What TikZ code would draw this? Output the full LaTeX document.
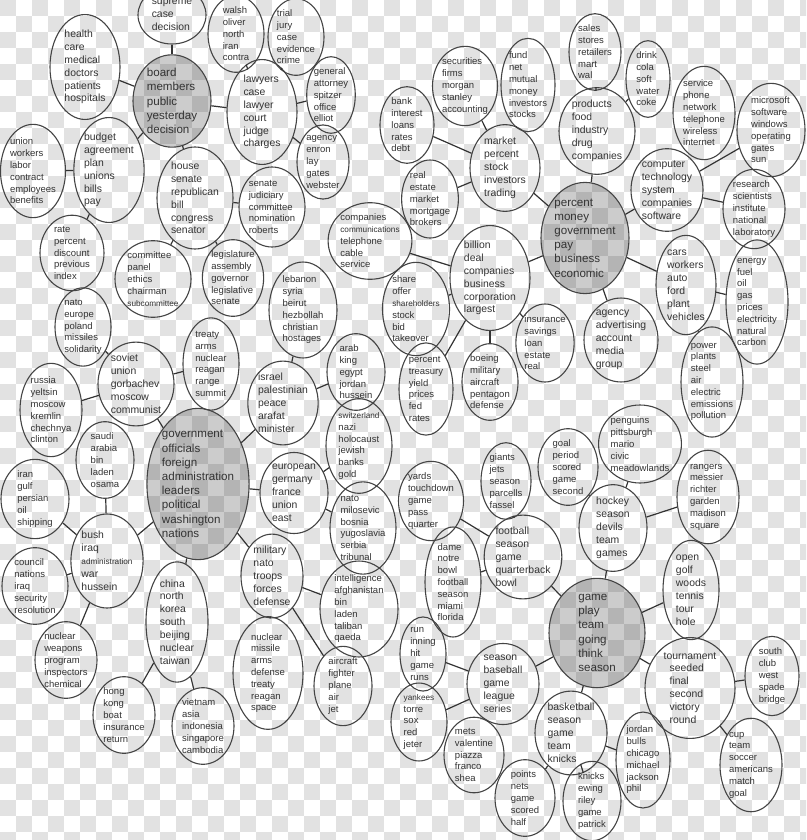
\documentclass[tikz,border=0pt]{standalone}
\usepackage{fontspec}
\setmainfont{Liberation Sans}
\usetikzlibrary{shapes.geometric}
\definecolor{ink}{HTML}{333333}
\definecolor{rim}{HTML}{444444}
\definecolor{chk}{HTML}{E2E2E2}
\newcommand{\smw}[1]{{\fontsize{8.2}{11}\selectfont #1}}
\begin{document}
\begin{tikzpicture}[x=1pt,y=-1pt,
  el/.style 2 args={ellipse, draw=rim, line width=1.1pt, minimum width=2*#1, minimum height=2*#2, inner sep=0pt, align=left, text=ink},
  ts/.style={font=\fontsize{9.5}{11.8}\selectfont},
  tm/.style={font=\fontsize{10.4}{12.9}\selectfont},
  tg/.style={font=\fontsize{11.6}{14.2}\selectfont, fill=black, fill opacity=0.2, text opacity=1},
  conn/.style={draw=ink, line width=1.2pt}]
\useasboundingbox (0,0) rectangle (806,840);
\clip (0,0) rectangle (806,840);
\fill[white] (0,0) rectangle (806,840);
\foreach \j in {0,2,...,52} {\foreach \i in {0,2,...,50} {
  \fill[chk] (\i*16,\j*16) rectangle ++(16,16);
  \fill[chk] (\i*16+16,\j*16+16) rectangle ++(16,16);}}
% cluster: board
\node[el={34}{29},tm] (sup) at (172,15) {supreme\\case\\decision};
\node[el={39}{39},tg] (board) at (172,101) {board\\members\\public\\yesterday\\decision};
\node[el={35}{46},tm] (health) at (85,67) {health\\care\\medical\\doctors\\patients\\hospitals};
\node[el={28}{36},ts] (walsh) at (236,34) {walsh\\oliver\\north\\iran\\contra};
\node[el={28}{35},ts] (trial) at (296,37) {trial\\jury\\case\\evidence\\crime};
\node[el={35}{46},tm] (lawyers) at (262,112) {lawyers\\case\\lawyer\\court\\judge\\charges};
\node[el={23}{32},ts] (general) at (331,95) {general\\attorney\\spitzer\\office\\elliot};
\node[el={26}{33},ts] (agency) at (323,162) {agency\\enron\\lay\\gates\\webster};
\node[el={32}{39},ts] (union) at (33,171) {union\\workers\\labor\\contract\\employees\\benefits};
\node[el={35}{45},tm] (budget) at (109,170) {budget\\agreement\\plan\\unions\\bills\\pay};
\node[el={38}{45},tm] (house) at (195,198) {house\\senate\\republican\\bill\\congress\\senator};
\node[el={33}{40},ts] (judic) at (272,207) {senate\\judiciary\\committee\\nomination\\roberts};
\node[el={32}{34},ts] (rate) at (72,253) {rate\\percent\\discount\\previous\\index};
\node[el={38}{38},ts] (committee) at (153,279) {committee\\panel\\ethics\\chairman\\\smw{subcommittee}};
\node[el={29}{38},ts] (legis) at (233,278) {legislature\\assembly\\governor\\legislative\\senate};
% cluster: government
\node[el={28}{36},ts] (natoeu) at (83,327) {nato\\europe\\poland\\missiles\\solidarity};
\node[el={38}{40},tm] (soviet) at (136,384) {soviet\\union\\gorbachev\\moscow\\communist};
\node[el={28}{41},ts] (treaty) at (211,364) {treaty\\arms\\nuclear\\reagan\\range\\summit};
\node[el={31}{37},ts] (russia) at (51,410) {russia\\yeltsin\\moscow\\kremlin\\chechnya\\clinton};
\node[el={34}{46},ts] (lebanon) at (303,310) {lebanon\\syria\\beirut\\hezbollah\\christian\\hostages};
\node[el={35}{40},tm] (israel) at (283,403) {israel\\palestinian\\peace\\arafat\\minister};
\node[el={29}{35},ts] (arab) at (356,372) {arab\\king\\egypt\\jordan\\hussein};
\node[el={29}{34},ts] (saudi) at (105,460) {saudi\\arabia\\bin\\laden\\osama};
\node[el={51}{70},tg] (govt) at (198,484) {government\\officials\\foreign\\administration\\leaders\\political\\washington\\nations};
\node[el={34}{39},ts] (iran) at (35,499) {iran\\gulf\\persian\\oil\\shipping};
\node[el={30}{47},tm] (bush) at (107,561) {bush\\iraq\\\smw{administration}\\war\\hussein};
\node[el={33}{37},ts] (council) at (35,586) {council\\nations\\iraq\\security\\resolution};
\node[el={31}{52},tm] (china) at (177,622) {china\\north\\korea\\south\\beijing\\nuclear\\taiwan};
\node[el={34}{39},tm] (european) at (294,493) {european\\germany\\france\\union\\east};
\node[el={33}{41},ts] (swiss) at (359,446) {\smw{switzerland}\\nazi\\holocaust\\jewish\\banks\\gold};
\node[el={33}{39},ts] (natomil) at (363,528) {nato\\milosevic\\bosnia\\yugoslavia\\serbia\\tribunal};
\node[el={31}{40},tm] (military) at (272,576) {military\\nato\\troops\\forces\\defense};
\node[el={39}{39},ts] (intel) at (359,609) {intelligence\\afghanistan\\bin\\laden\\taliban\\qaeda};
\node[el={35}{44},ts] (nucmis) at (268,673) {nuclear\\missile\\arms\\defense\\treaty\\reagan\\space};
\node[el={29}{33},ts] (aircraft) at (343,686) {aircraft\\fighter\\plane\\air\\jet};
\node[el={31}{35},ts] (nucweap) at (66,660) {nuclear\\weapons\\program\\inspectors\\chemical};
\node[el={31}{35},ts] (hongkong) at (124,715) {hong\\kong\\boat\\insurance\\return};
\node[el={31}{37},ts] (vietnam) at (203,726) {vietnam\\asia\\indonesia\\singapore\\cambodia};
% cluster: percent
\node[el={39}{38},ts] (compcomm) at (370,241) {companies\\\smw{communications}\\telephone\\cable\\service};
\node[el={40}{46},tm] (billion) at (490,278) {billion\\deal\\companies\\business\\corporation\\largest};
\node[el={31}{39},ts] (share) at (416,309) {share\\offer\\\smw{shareholders}\\stock\\bid\\takeover};
\node[el={27}{38},ts] (ptreas) at (426,389) {percent\\treasury\\yield\\prices\\fed\\rates};
\node[el={28}{37},ts] (boeing) at (490,382) {boeing\\military\\aircraft\\pentagon\\defense};
\node[el={28}{39},ts] (insur) at (545,343) {insurance\\savings\\loan\\estate\\real};
\node[el={27}{34},ts] (bank) at (407,125) {bank\\interest\\loans\\rates\\debt};
\node[el={29}{37},ts] (secur) at (465,86) {securities\\firms\\morgan\\stanley\\accounting};
\node[el={27}{43},ts] (fund) at (528,85) {fund\\net\\mutual\\money\\investors\\stocks};
\node[el={35}{39},tm] (market) at (505,168) {market\\percent\\stock\\investors\\trading};
\node[el={27}{39},ts] (realest) at (430,199) {real\\estate\\market\\mortgage\\brokers};
\node[el={26}{35},ts] (sales) at (595,52) {sales\\stores\\retailers\\mart\\wal};
\node[el={22}{36},ts] (drink) at (648,79) {drink\\cola\\soft\\water\\coke};
\node[el={38}{38},tm] (products) at (597,131) {products\\food\\industry\\drug\\companies};
\node[el={31}{44},ts] (service) at (704,113) {service\\phone\\network\\telephone\\wireless\\internet};
\node[el={34}{42},ts] (microsoft) at (771,130) {microsoft\\software\\windows\\operating\\gates\\sun};
\node[el={36}{39},tm] (computer) at (667,190) {computer\\technology\\system\\companies\\software};
\node[el={31}{38},ts] (research) at (754,209) {research\\scientists\\institute\\national\\laboratory};
\node[el={44}{53},tg] (percent) at (585,238) {percent\\money\\government\\pay\\business\\economic};
\node[el={30}{47},tm] (cars) at (686,285) {cars\\workers\\auto\\ford\\plant\\vehicles};
\node[el={31}{52},ts] (energy) at (757,302) {energy\\fuel\\oil\\gas\\prices\\electricity\\natural\\carbon};
\node[el={37}{38},tm] (advert) at (621,340) {agency\\advertising\\account\\media\\group};
\node[el={31}{49},ts] (power) at (712,382) {power\\plants\\steel\\air\\electric\\emissions\\pollution};
% cluster: game
\node[el={30}{35},ts] (goal) at (568,467) {goal\\period\\scored\\game\\second};
\node[el={35}{39},ts] (penguins) at (640,444) {penguins\\pittsburgh\\mario\\civic\\meadowlands};
\node[el={25}{33},ts] (giants) at (506,481) {giants\\jets\\season\\parcells\\fassel};
\node[el={31}{34},ts] (yards) at (431,501) {yards\\touchdown\\game\\pass\\quarter};
\node[el={38}{40},tm] (football) at (523,557) {football\\season\\game\\quarterback\\bowl};
\node[el={28}{45},ts] (dame) at (453,582) {dame\\notre\\bowl\\football\\season\\miami\\florida};
\node[el={34}{38},tm] (hockey) at (613,528) {hockey\\season\\devils\\team\\games};
\node[el={31}{41},ts] (rangers) at (708,497) {rangers\\messier\\richter\\garden\\madison\\square};
\node[el={28}{45},tm] (open) at (691,590) {open\\golf\\woods\\tennis\\tour\\hole};
\node[el={48}{52},tg] (game) at (597,633) {game\\play\\team\\going\\think\\season};
\node[el={23}{32},ts] (run) at (423,654) {run\\inning\\hit\\game\\runs};
\node[el={36}{37},tm] (baseball) at (503,684) {season\\baseball\\game\\league\\series};
\node[el={28}{34},ts] (yankees) at (419,722) {\smw{yankees}\\torre\\sox\\red\\jeter};
\node[el={30}{34},ts] (mets) at (474,755) {mets\\valentine\\piazza\\franco\\shea};
\node[el={30}{34},ts] (points) at (525,798) {points\\nets\\game\\scored\\half};
\node[el={36}{39},tm] (basket) at (571,733) {basketball\\season\\game\\team\\knicks};
\node[el={29}{34},ts] (knicks) at (592,801) {knicks\\ewing\\riley\\game\\patrick};
\node[el={27}{41},ts] (jordan) at (643,760) {jordan\\bulls\\chicago\\michael\\jackson\\phil};
\node[el={45}{45},tm] (tourn) at (690,688) {tournament\\\hspace*{6pt}seeded\\\hspace*{6pt}final\\\hspace*{6pt}second\\\hspace*{6pt}victory\\\hspace*{6pt}round};
\node[el={27}{34},ts] (south) at (772,676) {south\\club\\west\\spade\\bridge};
\node[el={31}{43},ts] (cup) at (751,765) {cup\\team\\soccer\\americans\\match\\goal};
% connectors
\foreach \a/\b in {board/sup, board/health, board/lawyers, board/budget, board/house,
  lawyers/walsh, lawyers/trial, lawyers/general, lawyers/agency,
  budget/union, budget/rate, house/judic, house/committee, house/legis,
  soviet/natoeu, soviet/treaty, soviet/russia, soviet/govt,
  govt/israel, govt/european, govt/bush, govt/military, govt/china,
  bush/saudi, bush/iran, bush/council, bush/nucweap,
  china/hongkong, china/vietnam, israel/lebanon, israel/arab,
  european/swiss, european/natomil, military/intel, military/nucmis, military/aircraft,
  market/bank, market/secur, market/fund, market/realest, market/percent,
  products/sales, products/drink, products/percent,
  percent/computer, computer/microsoft, computer/research,
  percent/billion, percent/cars, percent/advert, cars/energy, cars/power,
  billion/compcomm, billion/share, billion/ptreas, billion/boeing, billion/insur,
  hockey/goal, hockey/penguins, hockey/rangers, hockey/game,
  football/giants, football/yards, football/dame, football/game,
  game/open, game/tourn, game/basket, game/baseball,
  baseball/run, baseball/yankees, baseball/mets,
  basket/points, basket/knicks, basket/jordan, tourn/south, tourn/cup}
  \draw[conn] (\a) -- (\b);
\end{tikzpicture}
\end{document}
